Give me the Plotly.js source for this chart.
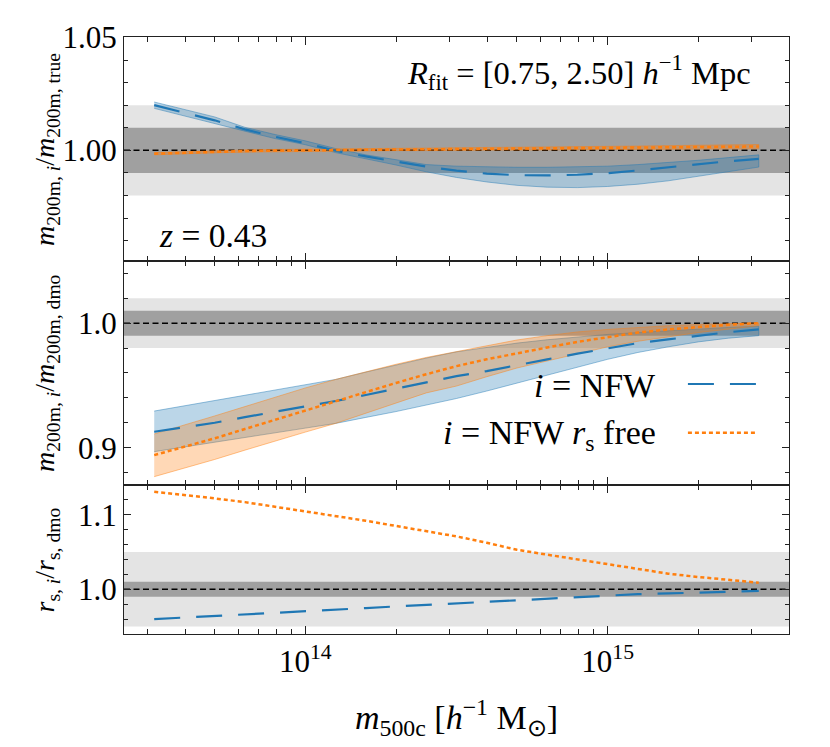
<!DOCTYPE html>
<html><head><meta charset="utf-8">
<script src="https://cdn.plot.ly/plotly-3.0.1.min.js"></script>
<style>html,body{margin:0;padding:0;background:#fff}</style>
</head><body><div id="chart" style="width:830px;height:747px"></div>
<script>
// halo mass m500c [h^-1 Msun]
const m500c = [3.162e13, 3.981e13, 5.012e13, 6.310e13, 7.943e13, 1.0e14, 1.259e14, 1.585e14, 1.995e14, 2.512e14,
  3.162e14, 3.981e14, 5.012e14, 6.310e14, 7.943e14, 1.0e15, 1.259e15, 1.585e15, 1.995e15, 2.512e15, 3.162e15];

// Panel 1: m200m,i / m200m,true
const nfwTrue    = [1.0200,1.0168,1.0133,1.0093,1.0060,1.0032,0.9998,0.9973,0.9949,0.9928,0.9910,0.9897,0.9890,0.9889,0.9892,0.9899,0.9911,0.9925,0.9939,0.9952,0.9962];
const nfwTrueHi  = [1.0214,1.0182,1.0148,1.0102,1.0070,1.0042,1.0008,0.9980,0.9958,0.9937,0.9930,0.9927,0.9925,0.9925,0.9927,0.9930,0.9937,0.9946,0.9956,0.9968,0.9980];
const nfwTrueLo  = [1.0186,1.0154,1.0118,1.0085,1.0052,1.0025,0.9990,0.9962,0.9935,0.9905,0.9880,0.9860,0.9845,0.9837,0.9835,0.9840,0.9850,0.9865,0.9885,0.9905,0.9926];
const rsTrue     = [0.9985,0.9990,0.9994,0.9997,0.9999,1.0000,1.0002,1.0003,1.0004,1.0004,1.0005,1.0005,1.0006,1.0008,1.0009,1.0010,1.0011,1.0013,1.0014,1.0016,1.0017];
const rsTrueHi   = [0.9990,0.9995,0.9999,1.0002,1.0004,1.0005,1.0007,1.0008,1.0009,1.0010,1.0011,1.0012,1.0013,1.0015,1.0016,1.0018,1.0019,1.0021,1.0023,1.0025,1.0026];
const rsTrueLo   = [0.9980,0.9985,0.9989,0.9992,0.9994,0.9995,0.9997,0.9998,0.9999,0.9999,0.9999,0.9999,1.0000,1.0001,1.0002,1.0003,1.0003,1.0004,1.0005,1.0006,1.0007];

// Panel 2: m200m,i / m200m,dmo
const nfwDmo     = [0.9128,0.9165,0.9200,0.9245,0.9287,0.9330,0.9375,0.9423,0.9472,0.9520,0.9575,0.9615,0.9665,0.9710,0.9755,0.9800,0.9840,0.9870,0.9900,0.9928,0.9950];
const nfwDmoHi   = [0.9294,0.9336,0.9378,0.9420,0.9462,0.9506,0.9548,0.9607,0.9665,0.9720,0.9770,0.9808,0.9840,0.9867,0.9890,0.9910,0.9925,0.9940,0.9953,0.9966,0.9976];
const nfwDmoLo   = [0.8968,0.9005,0.9043,0.9080,0.9120,0.9157,0.9195,0.9243,0.9290,0.9340,0.9395,0.9455,0.9515,0.9580,0.9645,0.9710,0.9765,0.9810,0.9850,0.9880,0.9900];
const rsDmo      = [0.8940,0.9005,0.9075,0.9150,0.9225,0.9300,0.9375,0.9450,0.9520,0.9590,0.9655,0.9710,0.9760,0.9805,0.9850,0.9890,0.9925,0.9950,0.9972,0.9988,1.0000];
const rsDmoHi    = [0.9110,0.9180,0.9255,0.9330,0.9405,0.9480,0.9548,0.9610,0.9670,0.9725,0.9770,0.9815,0.9865,0.9900,0.9930,0.9950,0.9968,0.9980,0.9990,0.9997,1.0002];
const rsDmoLo    = [0.8767,0.8835,0.8905,0.8980,0.9055,0.9125,0.9195,0.9280,0.9360,0.9440,0.9495,0.9570,0.9640,0.9700,0.9755,0.9810,0.9855,0.9890,0.9925,0.9955,0.9980];

// Panel 3: r_s,i / r_s,dmo
const rsRatioNfw  = [0.9600,0.9620,0.9640,0.9660,0.9680,0.9700,0.9727,0.9748,0.9770,0.9790,0.9810,0.9835,0.9860,0.9880,0.9900,0.9918,0.9935,0.9945,0.9958,0.9968,0.9978];
const rsRatioFree = [1.1310,1.1270,1.1220,1.1170,1.1110,1.1050,1.0990,1.0920,1.0850,1.0780,1.0710,1.0625,1.0530,1.0465,1.0400,1.0333,1.0270,1.0210,1.0165,1.0125,1.0089];

const xMajor = [1e14, 1e15];
const xMajorText = ['10<sup>14</sup>', '10<sup>15</sup>'];
const xMinor = [3e13,4e13,5e13,6e13,7e13,8e13,9e13,2e14,3e14,4e14,5e14,6e14,7e14,8e14,9e14,2e15,3e15];

const BLUE = '#1f77b4', ORANGE = '#ff7f0e';
const FONT = 'Liberation Serif';

function band(lo, hi, rgb, xa, ya) {
  return {x: m500c.concat(m500c.slice().reverse()), y: hi.concat(lo.slice().reverse()),
    mode: 'lines', fill: 'toself', fillcolor: 'rgba(' + rgb + ',0.3)',
    line: {color: 'rgba(' + rgb + ',0.45)', width: 1}, xaxis: xa, yaxis: ya, hoverinfo: 'skip', showlegend: false};
}
function dashLine(y, xa, ya) {
  return {x: m500c, y: y, mode: 'lines', line: {color: BLUE, width: 2.2, dash: '26px,16px'}, xaxis: xa, yaxis: ya, showlegend: false};
}
function dotLine(y, xa, ya) {
  return {x: m500c, y: y, mode: 'lines', line: {color: ORANGE, width: 2.5, dash: '4px,3px'}, xaxis: xa, yaxis: ya, showlegend: false};
}

const data = [
  band(nfwTrueLo, nfwTrueHi, '31,119,180', 'x', 'y'),
  band(rsTrueLo, rsTrueHi, '255,127,14', 'x', 'y'),
  dashLine(nfwTrue, 'x', 'y'),
  dotLine(rsTrue, 'x', 'y'),
  band(nfwDmoLo, nfwDmoHi, '31,119,180', 'x2', 'y2'),
  band(rsDmoLo, rsDmoHi, '255,127,14', 'x2', 'y2'),
  dashLine(nfwDmo, 'x2', 'y2'),
  dotLine(rsDmo, 'x2', 'y2'),
  dashLine(rsRatioNfw, 'x3', 'y3'),
  dotLine(rsRatioFree, 'x3', 'y3')
];

function xax(anchor, labels) {
  return {type: 'log', range: [13.4, 15.6], anchor: anchor, showline: true, linecolor: '#222', linewidth: 1,
    mirror: 'allticks', ticks: 'inside', ticklen: 8, tickwidth: 1, tickcolor: '#222',
    tickmode: 'array', tickvals: xMajor, ticktext: xMajorText, showticklabels: labels,
    minor: {tickmode: 'array', tickvals: xMinor, ticks: 'inside', ticklen: 5, tickwidth: 1, tickcolor: '#222'},
    showgrid: false, zeroline: false, tickfont: {family: FONT, size: 31, color: '#000'}};
}
function yax(domain, range, vals, text, minorStep, anchor) {
  return {domain: domain, range: range, anchor: anchor, showline: true, linecolor: '#222', linewidth: 1,
    mirror: 'allticks', ticks: 'inside', ticklen: 7, tickwidth: 1, tickcolor: '#222',
    tickmode: 'array', tickvals: vals, ticktext: text,
    minor: {tickmode: 'linear', tick0: 0, dtick: minorStep, ticks: 'inside', ticklen: 4, tickwidth: 1, tickcolor: '#222'},
    showgrid: false, zeroline: false, tickfont: {family: FONT, size: 31, color: '#000'}};
}

const shapes = [];
[['y', 0.98, 1.02, 0.99, 1.01], ['y2', 0.98, 1.02, 0.99, 1.01], ['y3', 0.95, 1.05, 0.99, 1.01]].forEach((p, i) => {
  const xr = ['x', 'x2', 'x3'][i] + ' domain';
  shapes.push({type: 'rect', xref: xr, yref: p[0], x0: 0, x1: 1, y0: p[1], y1: p[2], fillcolor: '#e4e4e4', line: {width: 0}, layer: 'below'});
  shapes.push({type: 'rect', xref: xr, yref: p[0], x0: 0, x1: 1, y0: p[3], y1: p[4], fillcolor: '#a0a0a0', line: {width: 0}, layer: 'below'});
  shapes.push({type: 'line', xref: xr, yref: p[0], x0: 0, x1: 1, y0: 1, y1: 1, line: {color: '#000', width: 1.5, dash: '6px,3.5px'}, layer: 'below'});
});
// legend samples
shapes.push({type: 'line', xref: 'paper', yref: 'paper', x0: 0.848, x1: 0.952, y0: 0.4188, y1: 0.4188, line: {color: BLUE, width: 2.2, dash: '26px,16px'}});
shapes.push({type: 'line', xref: 'paper', yref: 'paper', x0: 0.848, x1: 0.952, y0: 0.3372, y1: 0.3372, line: {color: ORANGE, width: 2.5, dash: '4px,3px'}});

const ann = (text, x, y, xanchor, yanchor, size, angle) => ({text: text, x: x, y: y, xref: 'paper', yref: 'paper',
  xanchor: xanchor, yanchor: yanchor, showarrow: false, textangle: angle || 0, font: {family: FONT, size: size, color: '#000'}});

const annotations = [
  ann('<i>R</i><sub>fit</sub> = [0.75, 2.50] <i>h</i><sup>−1</sup> Mpc', 0.946, 0.941, 'right', 'middle', 32.5),
  ann('<i>z</i> = 0.43', 0.0496, 0.668, 'left', 'middle', 33.5),
  ann('<i>i</i> = NFW', 0.803, 0.417, 'right', 'middle', 34),
  ann('<i>i</i> = NFW <i>r</i><sub>s</sub> free', 0.803, 0.333, 'right', 'middle', 34),
  ann('<i>m</i><sub>200m, <i>i</i></sub>/<i>m</i><sub>200m, true</sub>', -0.1158, 0.8124, 'center', 'middle', 28, -90),
  ann('<i>m</i><sub>200m, <i>i</i></sub>/<i>m</i><sub>200m, dmo</sub>', -0.1158, 0.4372, 'center', 'middle', 28, -90),
  ann('<i>r</i><sub>s, <i>i</i></sub>/<i>r</i><sub>s, dmo</sub>', -0.1158, 0.1248, 'center', 'middle', 28, -90),
  ann('<i>m</i><sub>500c</sub> [<i>h</i><sup>−1</sup> M<sub>⊙</sub>]', 0.5, -0.1407, 'center', 'middle', 34)
];

const layout = {
  width: 830, height: 747, margin: {l: 124, r: 41, t: 37, b: 113},
  paper_bgcolor: '#fff', plot_bgcolor: '#fff', showlegend: false,
  font: {family: FONT, color: '#000'},
  xaxis: xax('y', false), xaxis2: xax('y2', false), xaxis3: xax('y3', true),
  yaxis: yax([0.6248, 1], [0.951, 1.0502], [1.0, 1.05], ['1.00', '1.05'], 0.01, 'x'),
  yaxis2: yax([0.2496, 0.6248], [0.87, 1.05], [0.9, 1.0], ['0.9', '1.0'], 0.02, 'x2'),
  yaxis3: yax([0, 0.2496], [0.94, 1.14], [1.0, 1.1], ['1.0', '1.1'], 0.02, 'x3'),
  shapes: shapes, annotations: annotations
};
Plotly.newPlot('chart', data, layout, {displayModeBar: false, staticPlot: true});
</script></body></html>
